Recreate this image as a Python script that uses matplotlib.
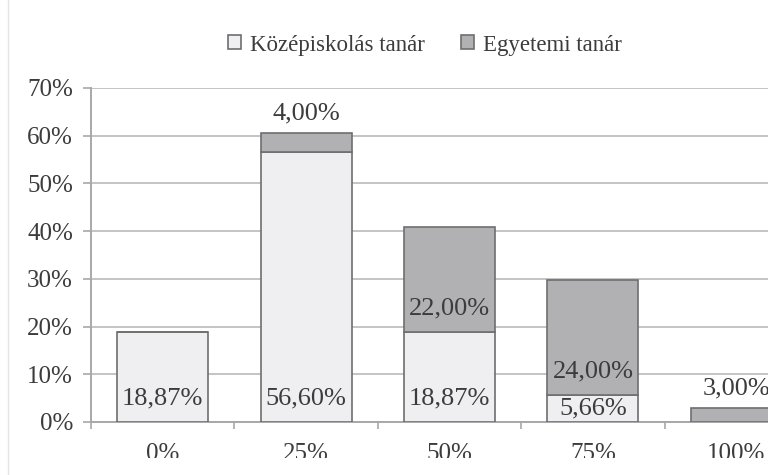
import matplotlib.pyplot as plt
from matplotlib.patches import Patch, Rectangle
from matplotlib.lines import Line2D
import numpy as np

plt.rcParams['font.family'] = ['Liberation Serif', 'DejaVu Serif']

kategoriak = ['0%', '25%', '50%', '75%', '100%']
kozepiskolas = [18.87, 56.60, 18.87, 5.66, 0.0]
egyetemi = [0.0, 4.00, 22.00, 24.00, 3.00]
y_ticks = [0, 10, 20, 30, 40, 50, 60, 70]

szoveg = '#3c3c3c'
vilagos = '#efeff1'
szurke = '#b1b1b3'
szel = '#6e6e6e'
racs = '#c4c4c4'

W, H = 768, 475
fig = plt.figure(figsize=(W / 100, H / 100), dpi=100)
# axes run past the right edge, the last bar is cut
ax = fig.add_axes([91 / W, (H - 422) / H, (808 - 91) / W, (422 - 88) / H])

x = np.arange(len(kategoriak))
sz = 0.635
ax.bar(x, kozepiskolas, sz, color=vilagos, edgecolor=szel, linewidth=1.2, zorder=3)
ax.bar(x, egyetemi, sz, bottom=kozepiskolas, color=szurke, edgecolor=szel,
       linewidth=1.2, zorder=3)

ax.set_xlim(-0.5, len(kategoriak) - 0.5)
ax.set_ylim(0, 70)
ax.set_yticks(y_ticks)
ax.set_yticklabels([f'{v}%' for v in y_ticks])
ax.set_xticks(x)
ax.set_xticklabels(kategoriak)
ax.set_xticks(np.arange(-0.5, len(kategoriak)), minor=True)
ax.grid(axis='y', color=racs, linewidth=1.4, zorder=0)

for s in ['top', 'right']:
    ax.spines[s].set_visible(False)
for s in ['left', 'bottom']:
    ax.spines[s].set_color('#a8a8a8')
    ax.spines[s].set_linewidth(1.4)

ax.tick_params(axis='y', length=6, width=1.2, color='#a8a8a8', pad=7,
               labelsize=18, labelcolor=szoveg)
ax.tick_params(axis='x', which='major', length=0, pad=15, labelsize=18,
               labelcolor=szoveg)
ax.tick_params(axis='x', which='minor', length=5, width=1.2, color='#a8a8a8')

px = 70 / (422 - 88)  # data units per pixel


def felirat(ertek, alap, teteje):
    if ertek <= 0:
        return
    magas = ertek / px
    if teteje and ertek < 5:
        y = alap + ertek + 19 * px
    elif magas < 48:
        y = alap + ertek / 2
    else:
        y = alap + 24 * px
    return y


for i in x:
    y = felirat(kozepiskolas[i], 0, False)
    if y is not None:
        ax.text(i, y, f'{kozepiskolas[i]:.2f}%'.replace('.', ','), ha='center',
                va='center', fontsize=19, color=szoveg, zorder=5)
    y = felirat(egyetemi[i], kozepiskolas[i], True)
    if y is not None:
        ax.text(i, y, f'{egyetemi[i]:.2f}%'.replace('.', ','), ha='center',
                va='center', fontsize=19, color=szoveg, zorder=5)

jelek = [Patch(facecolor=vilagos, edgecolor=szel, linewidth=1.2),
         Patch(facecolor=szurke, edgecolor=szel, linewidth=1.2)]
fig.legend(jelek, ['Középiskolás tanár', 'Egyetemi tanár'], loc='center',
           bbox_to_anchor=(425 / W, 1 - 45 / H), ncol=2, frameon=False,
           fontsize=16.5, handlelength=0.55, handleheight=0.55, handletextpad=0.4,
           columnspacing=1.6, labelcolor=szoveg)

# bottom of the page is cut off
fig.add_artist(Rectangle((0, 0), 1, (H - 458) / H, transform=fig.transFigure,
                         facecolor='white', edgecolor='none', zorder=10))
fig.add_artist(Line2D([8 / W, 8 / W], [0, 1], transform=fig.transFigure,
                      color='#e4e4e4', linewidth=1, zorder=11))

fig.savefig('out.png', dpi=100)
